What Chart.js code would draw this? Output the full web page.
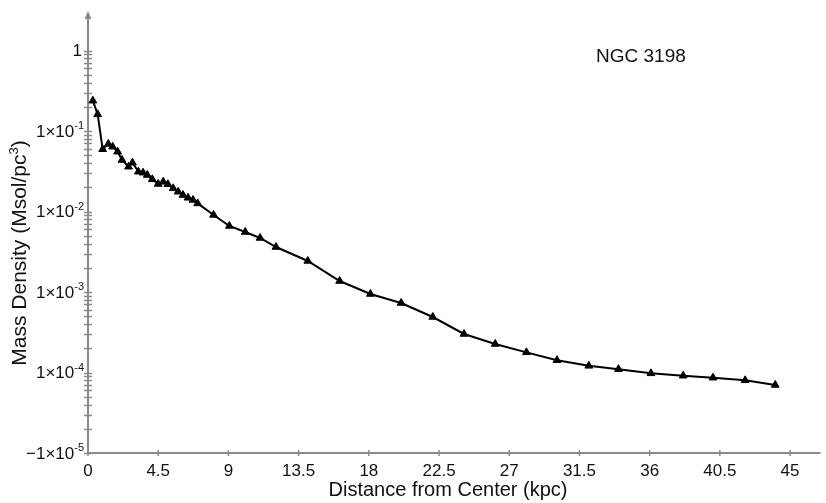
<!DOCTYPE html>
<html>
<head>
<meta charset="utf-8">
<script src="https://cdn.jsdelivr.net/npm/chart.js@4/dist/chart.umd.min.js"></script>
<style>
  html, body { margin: 0; padding: 0; background: #ffffff; }
  #wrap { width: 826px; height: 503px; position: relative; }
</style>
</head>
<body>
<div id="wrap"><canvas id="c" width="826" height="503"></canvas></div>
<script>
// Radial mass-density profile of NGC 3198
const distanceKpc = [
  0.31, 0.62, 0.94, 1.30, 1.58, 1.90, 2.18, 2.60, 2.85, 3.23, 3.53, 3.80,
  4.12, 4.50, 4.82, 5.12, 5.46, 5.78, 6.09, 6.41, 6.73, 7.03, 8.05, 9.06,
  10.08, 11.03, 12.05, 14.09, 16.13, 18.10, 20.07, 22.10, 24.10, 26.10,
  28.10, 30.06, 32.10, 34.00, 36.08, 38.15, 40.06, 42.12, 44.05
];
const massDensity = [
  0.238, 0.161, 0.0593, 0.0690, 0.0638, 0.0553, 0.0436, 0.0360, 0.0404,
  0.0312, 0.0303, 0.0284, 0.0251, 0.0220, 0.0234, 0.0218, 0.0194, 0.0176,
  0.0160, 0.0148, 0.0139, 0.0126, 0.00906, 0.00661, 0.00556, 0.00469,
  0.00362, 0.00243, 0.00137, 0.000944, 0.000730, 0.000489, 0.000301,
  0.000226, 0.000178, 0.000142, 0.000121, 0.000110, 0.0000977, 0.0000912,
  0.0000861, 0.0000800, 0.0000700
];

// Axis ticks and labels
const xTicks = [0, 4.5, 9, 13.5, 18, 22.5, 27, 31.5, 36, 40.5, 45];
const xTickLabels = ['0', '4.5', '9', '13.5', '18', '22.5', '27', '31.5', '36', '40.5', '45'];
const yMajorTicks = [1, 1e-1, 1e-2, 1e-3, 1e-4, 1e-5];
const yTickBase = ['1', '1×10', '1×10', '1×10', '1×10', '−1×10'];
const yTickExp = ['', '-1', '-2', '-3', '-4', '-5'];
const yMinorMultipliers = [2, 3, 4, 5, 6, 7, 8, 9];

const chartTitle = 'NGC 3198';
const xTitle = 'Distance from Center (kpc)';
const yTitleMain = 'Mass Density (Msol/pc';
const yTitleSup = '3';
const yTitleEnd = ')';

const FONT = '"Liberation Sans", Arial, Helvetica, sans-serif';
const AXIS_GRAY = '#8a8a8a';

const points = distanceKpc.map((d, i) => ({ x: d, y: massDensity[i] }));

// Draws axis lines, cross-shaped ticks, labels and titles from the chart's scales
const axesPlugin = {
  id: 'crossAxes',
  beforeDatasetsDraw(chart) {
    const { ctx, chartArea, scales } = chart;
    const xs = scales.x, ys = scales.y;
    const x0 = xs.getPixelForValue(0);
    const yBottom = ys.getPixelForValue(1e-5);

    ctx.save();
    ctx.strokeStyle = AXIS_GRAY;
    ctx.fillStyle = AXIS_GRAY;
    ctx.lineWidth = 2;

    // x axis line
    ctx.beginPath();
    ctx.moveTo(x0, yBottom);
    ctx.lineTo(chartArea.right, yBottom);
    ctx.stroke();

    // y axis line with arrow head
    ctx.beginPath();
    ctx.moveTo(x0, yBottom);
    ctx.lineTo(x0, chartArea.top + 6);
    ctx.stroke();
    ctx.beginPath();
    ctx.moveTo(x0, chartArea.top);
    ctx.lineTo(x0 - 3.5, chartArea.top + 8);
    ctx.lineTo(x0 + 3.5, chartArea.top + 8);
    ctx.closePath();
    ctx.fill();

    // x ticks
    ctx.lineWidth = 1.5;
    xTicks.forEach(v => {
      const px = xs.getPixelForValue(v);
      ctx.beginPath();
      ctx.moveTo(px, yBottom - 3);
      ctx.lineTo(px, yBottom + 3);
      ctx.stroke();
    });

    // y ticks (major + minor), crossing the axis
    const yTickVals = [];
    yMajorTicks.forEach(v => yTickVals.push(v));
    for (let e = -5; e <= -1; e++) {
      yMinorMultipliers.forEach(m => yTickVals.push(m * Math.pow(10, e)));
    }
    ctx.lineWidth = 1.5;
    yTickVals.forEach(v => {
      const py = Math.round(ys.getPixelForValue(v)) + 0.5;
      ctx.beginPath();
      ctx.moveTo(x0 - 4, py);
      ctx.lineTo(x0 + 4, py);
      ctx.stroke();
    });

    // x tick labels
    ctx.fillStyle = '#111111';
    ctx.font = '17px ' + FONT;
    ctx.textAlign = 'center';
    ctx.textBaseline = 'middle';
    xTicks.forEach((v, i) => {
      ctx.fillText(xTickLabels[i], xs.getPixelForValue(v), yBottom + 18);
    });

    // y tick labels with superscript exponents
    yMajorTicks.forEach((v, i) => {
      const py = ys.getPixelForValue(v);
      ctx.font = '11px ' + FONT;
      const ew = yTickExp[i] ? ctx.measureText(yTickExp[i]).width : 0;
      const right = x0 - 4;
      if (yTickExp[i]) {
        ctx.textAlign = 'left';
        ctx.textBaseline = 'alphabetic';
        ctx.fillText(yTickExp[i], right - ew, py - 2);
      }
      ctx.font = '17px ' + FONT;
      ctx.textAlign = 'right';
      ctx.textBaseline = 'middle';
      ctx.fillText(yTickBase[i], right - ew - (yTickExp[i] ? 0 : 2), py + 1);
    });

    // x axis title
    ctx.font = '20px ' + FONT;
    ctx.textAlign = 'center';
    ctx.textBaseline = 'middle';
    ctx.fillText(xTitle, 448, yBottom + 37);

    // y axis title (rotated) with superscript 3
    ctx.save();
    ctx.translate(19, 253);
    ctx.rotate(-Math.PI / 2);
    ctx.font = '21px ' + FONT;
    const w1 = ctx.measureText(yTitleMain).width;
    const w3 = ctx.measureText(yTitleEnd).width;
    ctx.font = '13px ' + FONT;
    const w2 = ctx.measureText(yTitleSup).width;
    const total = w1 + w2 + w3;
    let cx = -total / 2;
    ctx.textAlign = 'left';
    ctx.textBaseline = 'alphabetic';
    ctx.font = '21px ' + FONT;
    ctx.fillText(yTitleMain, cx, 7);
    cx += w1;
    ctx.font = '13px ' + FONT;
    ctx.fillText(yTitleSup, cx, -1);
    cx += w2;
    ctx.font = '21px ' + FONT;
    ctx.fillText(yTitleEnd, cx, 7);
    ctx.restore();

    // chart title
    ctx.font = '19px ' + FONT;
    ctx.textAlign = 'left';
    ctx.textBaseline = 'middle';
    ctx.fillText(chartTitle, 596, 57);

    ctx.restore();
  }
};

new Chart(document.getElementById('c'), {
  type: 'line',
  data: {
    datasets: [{
      data: points,
      borderColor: '#000000',
      backgroundColor: '#000000',
      borderWidth: 2,
      pointStyle: 'triangle',
      pointRadius: 4.5,
      pointBorderWidth: 1,
      pointBackgroundColor: '#000000',
      pointBorderColor: '#000000',
      tension: 0,
      fill: false
    }]
  },
  options: {
    responsive: false,
    animation: false,
    devicePixelRatio: 1,
    layout: { padding: { left: 88, right: 0, top: 11, bottom: 50 } },
    plugins: { legend: { display: false }, tooltip: { enabled: false } },
    scales: {
      x: { type: 'linear', min: 0, max: 46.95, display: false },
      y: { type: 'logarithmic', min: 1e-5, max: 3.096, display: false }
    }
  },
  plugins: [axesPlugin]
});
</script>
</body>
</html>
